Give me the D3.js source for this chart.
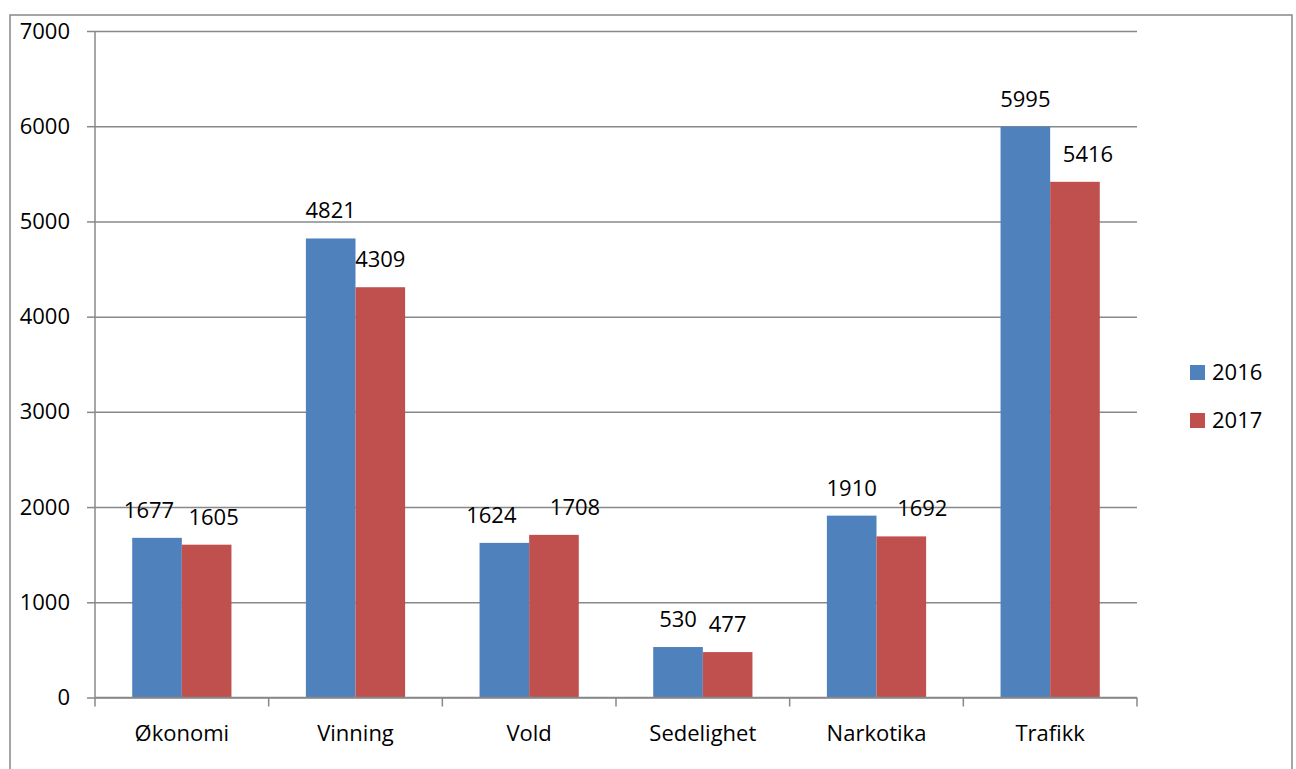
<!DOCTYPE html>
<html>
<head>
<meta charset="utf-8">
<script src="https://cdn.jsdelivr.net/npm/d3@7"></script>
<style>
  html, body { margin: 0; padding: 0; background: #fff; }
  svg { display: block; font-family: "Open Sans", "DejaVu Sans", sans-serif; }
</style>
</head>
<body>
<svg id="chart" width="1296" height="769"></svg>
<script>
// ---- data ----
const categories = ["Økonomi", "Vinning", "Vold", "Sedelighet", "Narkotika", "Trafikk"];
const seriesNames = ["2016", "2017"];
const values2016 = [1677, 4821, 1624, 530, 1910, 5995];
const values2017 = [1605, 4309, 1708, 477, 1692, 5416];
const yTicks = [0, 1000, 2000, 3000, 4000, 5000, 6000, 7000];

// ---- layout ----
const W = 1296, H = 769;
const plot = { left: 95, right: 1137, top: 31, bottom: 697.5 };
const colors = ["#4F81BD", "#C0504D"];
const gridColor = "#888888";
const fontSize = 22;
// small horizontal label nudges (px) as placed in the original, per series/category
const labelNudge = [[-8, 0, -13, 0, 0, 0], [7, 0, 21, 0, 21, 13]];

const svg = d3.select("#chart");

// outer frame
svg.append("rect")
  .attr("x", 10).attr("y", 15)
  .attr("width", 1282).attr("height", 790)
  .attr("fill", "none").attr("stroke", gridColor).attr("stroke-width", 1.5);

const y = d3.scaleLinear().domain([0, 7000]).range([plot.bottom, plot.top]);
const x0 = d3.scaleBand().domain(categories).range([plot.left, plot.right])
  .paddingInner(1.5 / 3.5).paddingOuter(0.75 / 3.5);
const x1 = d3.scaleBand().domain(seriesNames).range([0, x0.bandwidth()]);
const step = (plot.right - plot.left) / categories.length;

// gridlines
const yAxis = d3.axisLeft(y).tickValues(yTicks).tickSize(-(plot.right - plot.left)).tickFormat("");
const gGrid = svg.append("g").attr("transform", `translate(${plot.left},0)`).call(yAxis);
gGrid.select(".domain").remove();
gGrid.selectAll(".tick line").attr("stroke", gridColor).attr("stroke-width", 1.5);

// y axis with outer ticks and labels
const yAxis2 = d3.axisLeft(y).tickValues(yTicks).tickSize(8).tickPadding(17).tickFormat(d3.format("d"));
const gY = svg.append("g").attr("transform", `translate(${plot.left},0)`).call(yAxis2);
gY.select(".domain").attr("stroke", gridColor).attr("stroke-width", 1.5).attr("d", `M0,${plot.top}V${plot.bottom}`);
gY.selectAll(".tick line").attr("stroke", gridColor).attr("stroke-width", 1.5);
gY.selectAll(".tick text").attr("font-size", fontSize).attr("fill", "#000")
  .attr("font-family", '"Open Sans", sans-serif');

// bars
const data = categories.map((c, i) => ({ cat: c, vals: [values2016[i], values2017[i]] }));
const groups = svg.append("g").selectAll("g").data(data).join("g")
  .attr("transform", d => `translate(${x0(d.cat)},0)`);
groups.selectAll("rect").data(d => d.vals.map((v, s) => ({ v, s })))
  .join("rect")
  .attr("x", d => x1(seriesNames[d.s]))
  .attr("width", x1.bandwidth())
  .attr("y", d => y(d.v))
  .attr("height", d => y(0) - y(d.v))
  .attr("fill", d => colors[d.s]);

// value labels
groups.each(function (d, ci) {
  d3.select(this).selectAll("text").data(d.vals.map((v, s) => ({ v, s })))
    .join("text")
    .attr("x", e => x1(seriesNames[e.s]) + x1.bandwidth() / 2 + labelNudge[e.s][ci])
    .attr("y", e => y(e.v) - 20)
    .attr("text-anchor", "middle")
    .attr("font-size", fontSize)
    .attr("fill", "#000")
    .text(e => e.v);
});

// x axis line and category ticks
svg.append("line")
  .attr("x1", plot.left).attr("x2", plot.right)
  .attr("y1", plot.bottom).attr("y2", plot.bottom)
  .attr("stroke", gridColor).attr("stroke-width", 1.5);
const boundaries = d3.range(categories.length + 1).map(i => plot.left + i * step);
svg.append("g").selectAll("line").data(boundaries).join("line")
  .attr("x1", d => d).attr("x2", d => d)
  .attr("y1", plot.bottom).attr("y2", plot.bottom + 9)
  .attr("stroke", gridColor).attr("stroke-width", 1.5);
svg.append("g").selectAll("text").data(categories).join("text")
  .attr("x", d => x0(d) + x0.bandwidth() / 2)
  .attr("y", 741)
  .attr("text-anchor", "middle")
  .attr("font-size", fontSize)
  .attr("fill", "#000")
  .text(d => d);

// legend
const legend = svg.append("g").selectAll("g").data(seriesNames).join("g")
  .attr("transform", (d, i) => `translate(1190,${365 + i * 48})`);
legend.append("rect").attr("width", 15).attr("height", 15).attr("fill", (d, i) => colors[i]);
legend.append("text").attr("x", 22).attr("y", 15)
  .attr("font-size", fontSize).attr("fill", "#000").text(d => d);
</script>
</body>
</html>
